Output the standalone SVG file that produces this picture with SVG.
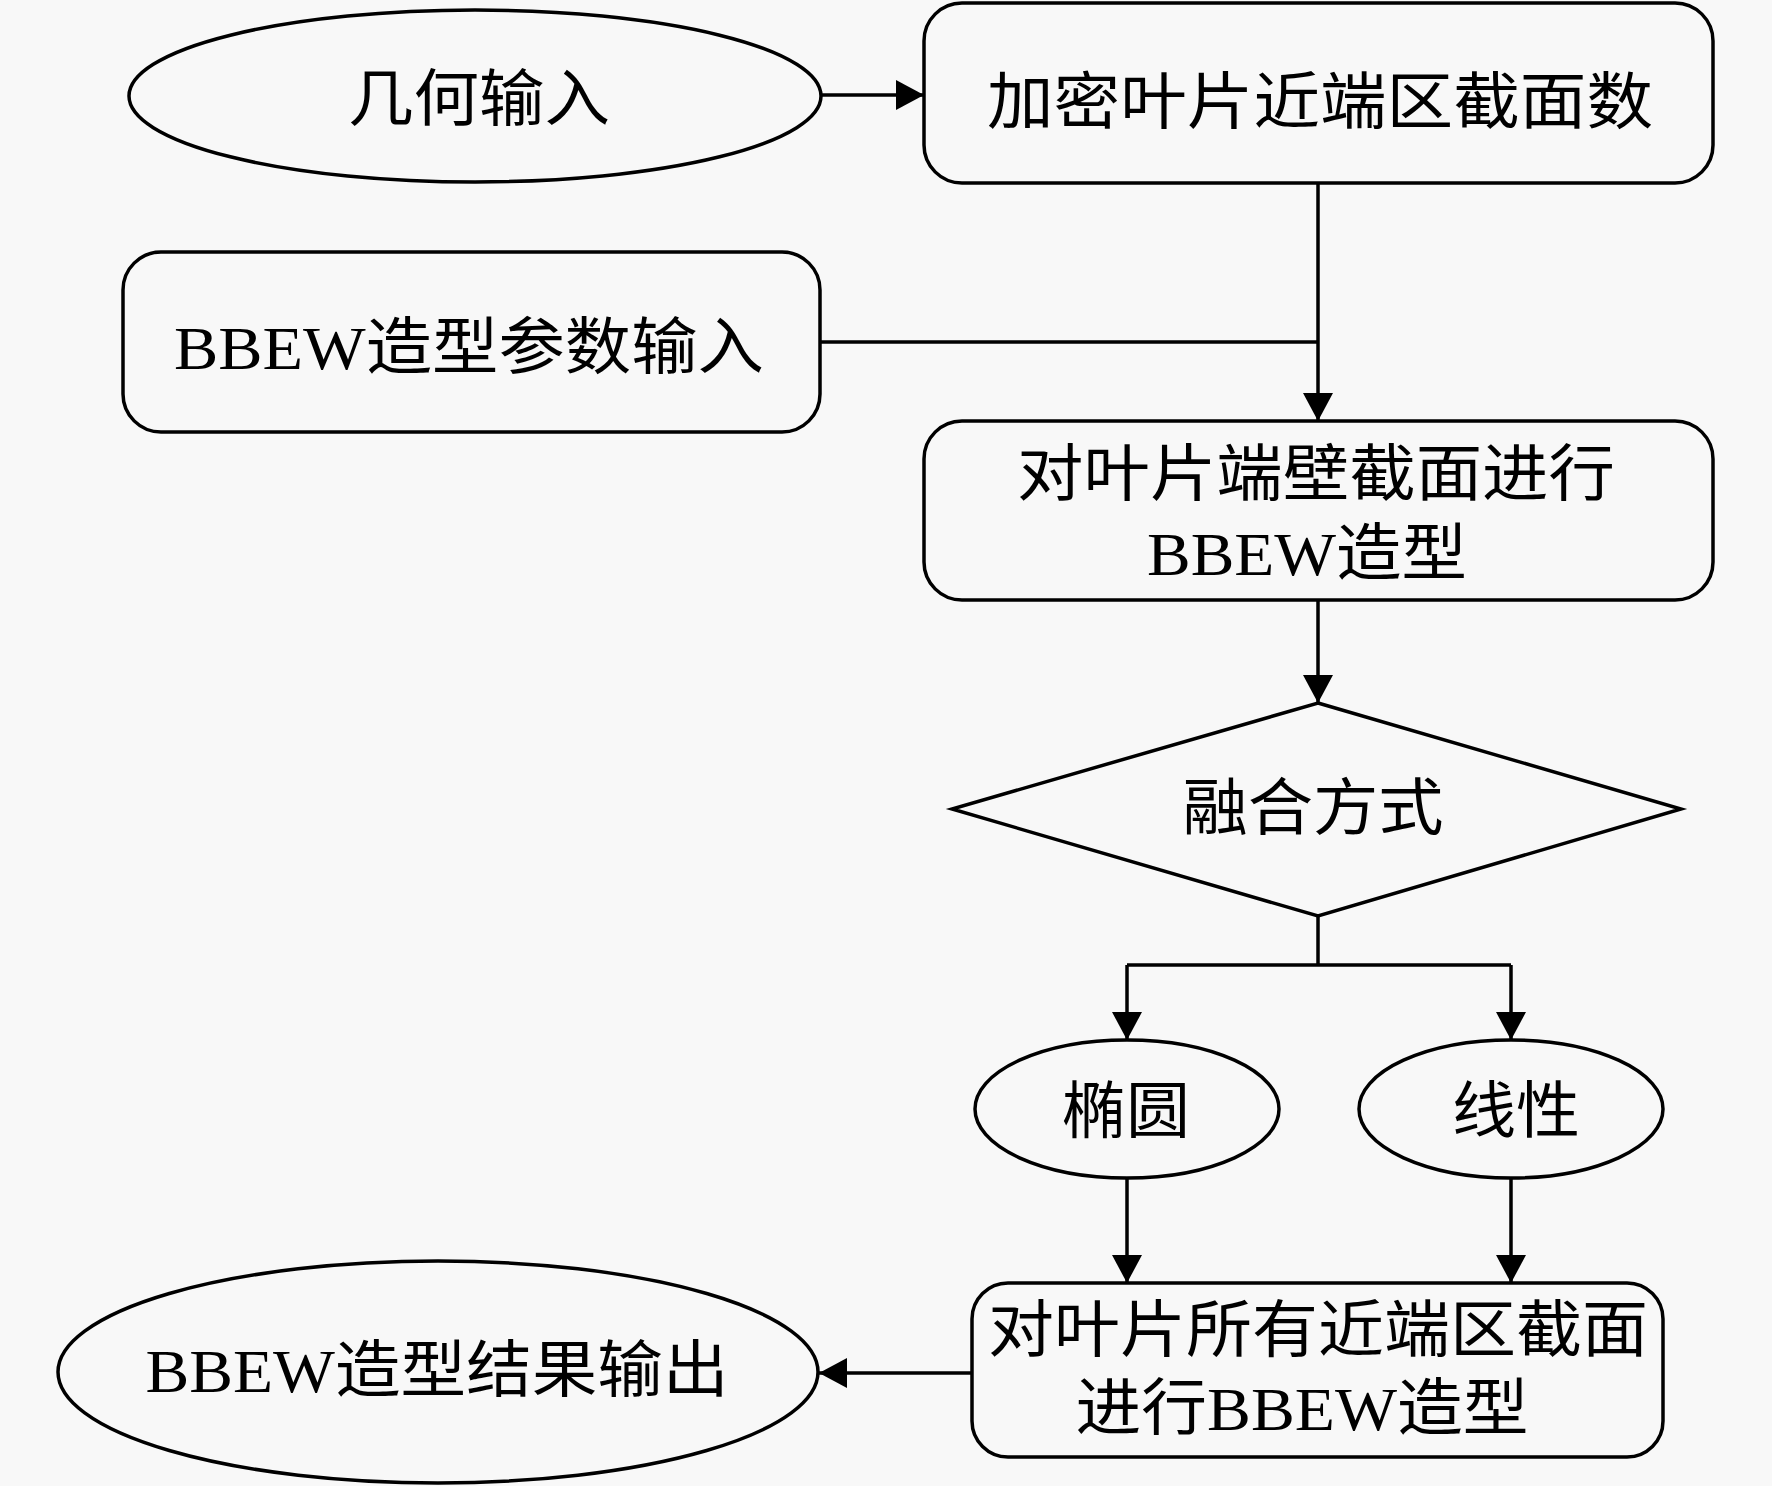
<svg xmlns="http://www.w3.org/2000/svg" width="1772" height="1486" viewBox="0 0 1772 1486">
<defs>
<style>
.n{fill:#f8f8f8;stroke:#000;stroke-width:3.5}
.c{fill:none;stroke:#000;stroke-width:3.5}
.t{font-family:"Liberation Serif","Noto Sans CJK SC",serif;font-size:62px;fill:#000;text-anchor:middle}
</style>
<marker id="ah" markerUnits="userSpaceOnUse" markerWidth="30" markerHeight="32" refX="28" refY="15" orient="auto">
<path d="M0,0 L28,15 L0,30 z" fill="#000"/>
</marker>
</defs>
<rect width="1772" height="1486" fill="#f8f8f8"/>
<g id="connectors">
<path class="c" d="M821,95 H924" marker-end="url(#ah)"/>
<path class="c" d="M1318,183 V421" marker-end="url(#ah)"/>
<path class="c" d="M821,342 H1318"/>
<path class="c" d="M1318,600 V703" marker-end="url(#ah)"/>
<path class="c" d="M1318,916 V965 M1127,965 H1511"/>
<path class="c" d="M1127,965 V1040" marker-end="url(#ah)"/>
<path class="c" d="M1511,965 V1040" marker-end="url(#ah)"/>
<path class="c" d="M1127,1178 V1283" marker-end="url(#ah)"/>
<path class="c" d="M1511,1178 V1283" marker-end="url(#ah)"/>
<path class="c" d="M972,1373 H819" marker-end="url(#ah)"/>
</g>
<g id="geom-input">
<ellipse class="n" cx="475" cy="96" rx="346" ry="86"/>
<text class="t" x="479" y="121" textLength="262" lengthAdjust="spacingAndGlyphs">几何输入</text>
</g>
<g id="densify">
<rect class="n" x="924" y="3" width="789" height="180" rx="38" ry="38"/>
<text class="t" x="1320" y="124" textLength="666" lengthAdjust="spacingAndGlyphs">加密叶片近端区截面数</text>
</g>
<g id="param-input">
<rect class="n" x="123" y="252" width="697" height="180" rx="38" ry="38"/>
<text class="t" x="469" y="369" textLength="590" lengthAdjust="spacingAndGlyphs">BBEW造型参数输入</text>
</g>
<g id="endwall-shape">
<rect class="n" x="924" y="421" width="789" height="179" rx="38" ry="38"/>
<text class="t" x="1316" y="496" textLength="598" lengthAdjust="spacingAndGlyphs">对叶片端壁截面进行</text>
<text class="t" x="1307" y="575" textLength="320" lengthAdjust="spacingAndGlyphs">BBEW造型</text>
</g>
<g id="blend">
<path class="n" d="M1318,703 L1681,809 L1318,916 L952,809 Z"/>
<text class="t" x="1313" y="830" textLength="261" lengthAdjust="spacingAndGlyphs">融合方式</text>
</g>
<g id="ellipse-opt">
<ellipse class="n" cx="1127" cy="1109" rx="152" ry="69"/>
<text class="t" x="1126" y="1133" textLength="128" lengthAdjust="spacingAndGlyphs">椭圆</text>
</g>
<g id="linear-opt">
<ellipse class="n" cx="1511" cy="1109" rx="152" ry="69"/>
<text class="t" x="1516" y="1133" textLength="128" lengthAdjust="spacingAndGlyphs">线性</text>
</g>
<g id="all-sections">
<rect class="n" x="972" y="1283" width="691" height="174" rx="36" ry="36"/>
<text class="t" x="1318" y="1352" textLength="660" lengthAdjust="spacingAndGlyphs">对叶片所有近端区截面</text>
<text class="t" x="1302" y="1430" textLength="453" lengthAdjust="spacingAndGlyphs">进行BBEW造型</text>
</g>
<g id="output">
<ellipse class="n" cx="438" cy="1372" rx="380" ry="111"/>
<text class="t" x="437" y="1392" textLength="583" lengthAdjust="spacingAndGlyphs">BBEW造型结果输出</text>
</g>
</svg>
